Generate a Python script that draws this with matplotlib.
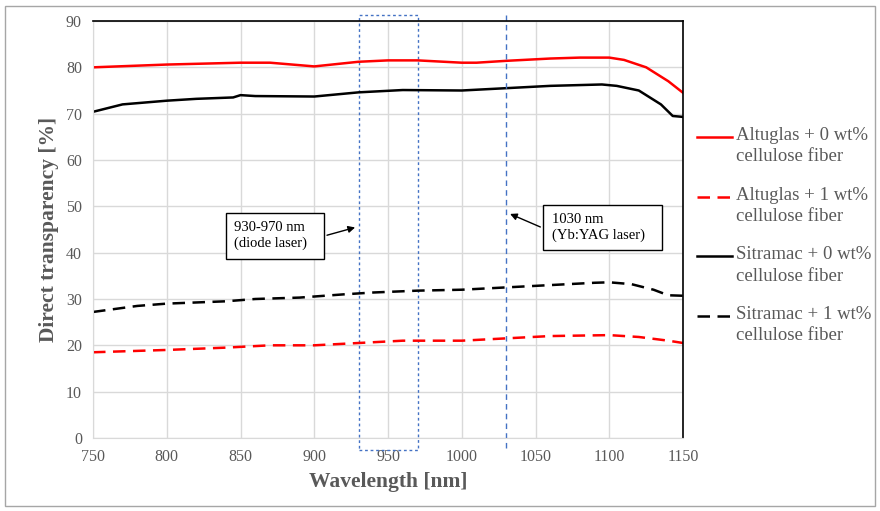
import matplotlib
matplotlib.use("Agg")
import matplotlib.pyplot as plt
from matplotlib.patches import Rectangle
from matplotlib.lines import Line2D

plt.rcParams["font.family"] = ["Liberation Serif", "DejaVu Serif"]

# valeurs
wl_alt0 = [750, 800, 850, 870, 900, 930, 950, 970, 1000, 1010, 1030, 1060, 1080, 1100, 1110, 1125, 1140, 1150]
alt0 = [80.0, 80.6, 81.0, 81.0, 80.2, 81.2, 81.5, 81.5, 81.0, 81.0, 81.4, 81.9, 82.1, 82.1, 81.6, 80.0, 77.0, 74.5]

wl_sit0 = [750, 770, 800, 820, 845, 850, 860, 900, 930, 960, 1000, 1030, 1060, 1095, 1105, 1120, 1135, 1143, 1150]
sit0 = [70.4, 72.0, 72.8, 73.2, 73.5, 74.0, 73.8, 73.7, 74.6, 75.1, 75.0, 75.5, 76.0, 76.3, 76.0, 75.0, 72.0, 69.5, 69.3]

wl_sit1 = [750, 780, 800, 840, 860, 890, 920, 940, 970, 1000, 1030, 1060, 1090, 1100, 1115, 1130, 1140, 1150]
sit1 = [27.2, 28.5, 29.0, 29.5, 30.0, 30.3, 31.0, 31.4, 31.8, 32.0, 32.5, 33.0, 33.5, 33.6, 33.2, 32.0, 30.8, 30.7]

wl_alt1 = [750, 800, 840, 870, 900, 930, 960, 1000, 1030, 1060, 1100, 1120, 1140, 1150]
alt1 = [18.5, 19.0, 19.5, 20.0, 20.0, 20.5, 21.0, 21.0, 21.5, 22.0, 22.2, 21.8, 21.0, 20.5]

labels = ["Altuglas + 0 wt%\ncellulose fiber", "Altuglas + 1 wt%\ncellulose fiber",
          "Sitramac + 0 wt%\ncellulose fiber", "Sitramac + 1 wt%\ncellulose fiber"]

GRAY = "#595959"
GRID = "#d9d9d9"
BLUE = "#4472c4"
DASH = (0, (5, 3))

fig = plt.figure(figsize=(8.8, 5.11), dpi=100)
ax = fig.add_axes([0.1057, 0.1429, 0.6705, 0.816])

ax.plot(wl_alt0, alt0, color="#ff0000", lw=1.8)
ax.plot(wl_alt1, alt1, color="#ff0000", lw=1.8, ls=DASH)
ax.plot(wl_sit0, sit0, color="black", lw=1.8)
ax.plot(wl_sit1, sit1, color="black", lw=1.8, ls=DASH)

ax.set_xlim(750, 1150)
ax.set_ylim(0, 90)
ax.set_xticks(range(750, 1151, 50))
ax.set_yticks(range(0, 91, 10))
ax.grid(True, color=GRID, lw=1)
ax.set_axisbelow(True)
ax.tick_params(length=0, labelsize=11.5, labelcolor=GRAY, pad=8)
for s in ("left", "bottom"):
    ax.spines[s].set_color(GRID)
for s in ("top", "right"):
    ax.spines[s].set_color("black")
    ax.spines[s].set_linewidth(1.2)

ax.set_xlabel("Wavelength [nm]", fontsize=15.5, fontweight="bold", color=GRAY, labelpad=5)
ax.set_ylabel("Direct transparency [%]", fontsize=15.5, fontweight="bold", color=GRAY, labelpad=5)

# zone laser diode (930-970 nm) et raie 1030 nm
ax.add_patch(Rectangle((930, -2.6), 40, 93.9, fill=False, ec=BLUE, lw=1, ls=(0, (2, 2)), clip_on=False))
ax.add_line(Line2D([1030, 1030], [-2.2, 91.3], color=BLUE, lw=1, ls=(0, (4, 3)), clip_on=False))

# boîtes d'annotation
ax.add_patch(Rectangle((840.2, 38.6), 66.4, 10.0, fill=True, fc="white", ec="black", lw=1, zorder=5))
ax.text(845.5, 43.7, "930-970 nm\n(diode laser)", fontsize=10.5, va="center", ha="left", zorder=6, linespacing=1.25)
ax.annotate("", xy=(929.5, 45.6), xytext=(906.8, 43.6),
            arrowprops=dict(arrowstyle="-|>", color="black", lw=1, mutation_scale=10), zorder=6)

ax.add_patch(Rectangle((1055, 40.6), 80.8, 9.7, fill=True, fc="white", ec="black", lw=1, zorder=5))
ax.text(1061, 45.4, "1030 nm\n(Yb:YAG laser)", fontsize=10.5, va="center", ha="left", zorder=6, linespacing=1.25)
ax.annotate("", xy=(1031, 48.6), xytext=(1055, 45.3),
            arrowprops=dict(arrowstyle="-|>", color="black", lw=1, mutation_scale=10), zorder=6)

# légende manuelle (trait aligné sur la première ligne)
styles = [("#ff0000", "-"), ("#ff0000", DASH), ("black", "-"), ("black", DASH)]
W, H = 880, 511
for i, (lab, (c, ls)) in enumerate(zip(labels, styles)):
    y = 137 + i * 59.7
    fig.add_artist(Line2D([697 / W, 732 / W], [1 - y / H, 1 - y / H], color=c, lw=1.8, ls=ls))
    fig.text(736 / W, 1 - (y - 10) / H, lab, fontsize=13.5, color=GRAY, va="top", ha="left", linespacing=1.32)

# cadre extérieur
fig.add_artist(Rectangle((5 / W, 5 / H), 870 / W, 500 / H, fill=False, ec="#a6a6a6", lw=1,
                         transform=fig.transFigure))

fig.savefig("out.png", dpi=100)
